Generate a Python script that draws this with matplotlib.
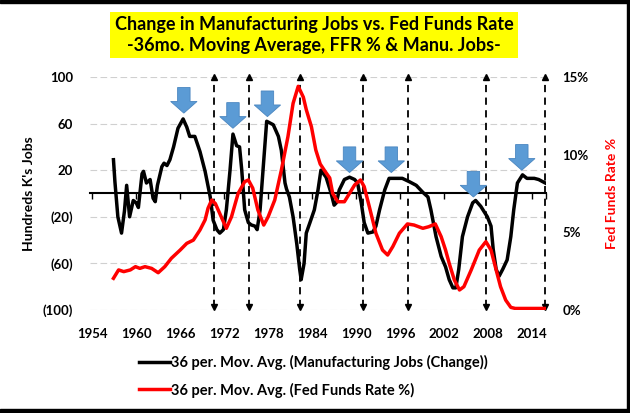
import matplotlib.pyplot as plt
from matplotlib.patches import FancyArrow, Rectangle
from matplotlib.lines import Line2D

plt.rcParams['font.family'] = 'Lato'
plt.rcParams['font.weight'] = 'bold'

# 36-month moving average of manufacturing job change (hundreds of K's)
jobs_years = [1956.9, 1957.1, 1957.5, 1958.0, 1958.4, 1958.7, 1959.1, 1959.6, 1960.0, 1960.3,
              1960.8, 1961.0, 1961.4, 1961.9, 1962.3, 1962.6, 1962.9, 1963.5, 1963.8, 1964.2,
              1964.6, 1965.1, 1965.7, 1966.4, 1966.9, 1967.3, 1968.0, 1968.7, 1969.4, 1970.1,
              1970.5, 1971.0, 1971.4, 1971.9, 1972.3, 1972.8, 1973.2, 1973.7, 1974.1, 1974.4,
              1974.8, 1975.3, 1975.7, 1976.2, 1976.5, 1976.9, 1977.3, 1977.8, 1978.7, 1979.4,
              1979.8, 1980.3, 1980.5, 1980.9, 1981.4, 1981.9, 1982.3, 1982.5, 1982.9, 1983.2,
              1983.7, 1984.3, 1984.8, 1985.2, 1985.9, 1986.6, 1987.0, 1987.3, 1987.7, 1988.4,
              1989.1, 1989.8, 1990.2, 1990.7, 1991.1, 1991.6, 1992.3, 1992.7, 1993.2, 1993.9,
              1994.5, 1995.4, 1996.3, 1997.3, 1998.2, 1999.1, 1999.8, 2000.2, 2000.9, 2001.6,
              2002.2, 2002.7, 2003.2, 2003.6, 2004.0, 2004.5, 2005.2, 2005.9, 2006.3, 2007.0,
              2007.9, 2008.4, 2008.7, 2009.1, 2009.5, 2010.0, 2010.6, 2011.1, 2011.5, 2012.0,
              2012.7, 2013.3, 2014.3, 2014.9, 2015.8]
jobs_change = [29, 10, -20, -34, -15, 7, -20, -6, -8, -12,
               17, 19, 9, 12, -4, -7, 7, 23, 26, 24,
               29, 40, 56, 64, 57, 49, 49, 36, 19, -3,
               -23, -31, -34, -31, -14, 20, 51, 41, 40, 20,
               -14, -25, -27, -28, -31, -14, 20, 62, 59, 49,
               37, 9, 4, -3, -20, -43, -65, -74, -60, -34,
               -25, -14, 3, 20, 14, 0, -10, -8, 3, 12,
               14, 12, 9, -8, -25, -34, -33, -28, -14, 3,
               13, 13, 13, 10, 7, 1, -3, -14, -37, -54,
               -63, -74, -81, -81, -65, -37, -20, -8, -6, -11,
               -20, -28, -48, -65, -71, -65, -57, -37, -14, 9,
               16, 13, 13, 12, 9]

# 36-month moving average of the Fed Funds Rate (%)
ffr_years = [1956.9, 1957.6, 1958.3, 1959.2, 1959.9, 1960.5, 1961.2, 1962.1, 1963.0, 1963.9,
             1964.8, 1966.0, 1966.9, 1967.8, 1968.7, 1969.4, 1969.8, 1970.3, 1970.8, 1971.6,
             1972.3, 1973.0, 1973.9, 1974.8, 1975.3, 1975.9, 1976.6, 1977.4, 1978.0, 1978.9,
             1979.8, 1980.7, 1981.4, 1982.1, 1982.8, 1983.2, 1983.9, 1984.5, 1985.1, 1985.8,
             1986.4, 1986.8, 1987.5, 1988.4, 1989.1, 1989.8, 1990.6, 1991.1, 1991.8, 1992.7,
             1993.6, 1994.3, 1995.0, 1995.9, 1997.0, 1997.9, 1999.1, 1999.9, 2000.8, 2001.6,
             2002.2, 2002.7, 2003.4, 2004.1, 2004.7, 2005.7, 2006.8, 2007.7, 2008.4, 2009.1,
             2009.7, 2010.4, 2011.1, 2011.7, 2015.8]
ffr_rate = [2.04, 2.58, 2.47, 2.58, 2.79, 2.68, 2.79, 2.68, 2.40, 2.79,
            3.33, 3.86, 4.29, 4.50, 5.15, 5.80, 6.55, 7.08, 6.85, 6.00,
            5.26, 6.00, 7.50, 8.26, 8.37, 7.84, 6.44, 5.47, 6.00, 7.08,
            9.00, 11.16, 13.30, 14.40, 13.70, 12.90, 11.80, 10.30, 9.40, 8.90,
            8.50, 7.51, 6.97, 6.97, 7.51, 8.05, 8.37, 7.94, 6.65, 4.94,
            3.86, 3.54, 4.08, 4.94, 5.54, 5.47, 5.26, 5.36, 5.54, 4.72,
            3.86, 3.00, 1.93, 1.29, 1.50, 2.58, 3.86, 4.40, 3.86, 2.58,
            1.50, 0.64, 0.17, 0.10, 0.10]

# annotations: blue "peak" arrows and dashed turning-point markers
peak_years = [1966.5, 1973.2, 1977.9, 1989.1, 1994.8, 2006.0, 2012.6]
peak_tips = [69, 56, 66, 18, 18, -3, 20]
turn_years = [1970.6, 1975.4, 1982.3, 1990.9, 1997.1, 2007.7, 2015.8]

year_ticks = [1954, 1960, 1966, 1972, 1978, 1984, 1990, 1996, 2002, 2008, 2014]
jobs_ticks = [-100, -60, -20, 20, 60, 100]
jobs_labels = ['(100)', '(60)', '(20)', '20', '60', '100']
rate_ticks = [0, 5, 10, 15]
rate_labels = ['0%', '5%', '10%', '15%']

fig = plt.figure(figsize=(6.3, 4.13), dpi=100)
ax = fig.add_axes([90/630, 1-310/413, 456/630, 233/413])
ax2 = ax.twinx()

ax.set_xlim(1953.7, 2015.9)
ax.set_ylim(-100, 100)
ax2.set_ylim(0, 15)

for s in ['top', 'right', 'left', 'bottom']:
    ax.spines[s].set_visible(False)
    ax2.spines[s].set_visible(False)

ax.set_yticks(jobs_ticks)
ax.set_yticklabels(jobs_labels)
ax.set_xticks(year_ticks)
ax.tick_params(axis='both', length=0, labelsize=9.5)
ax.tick_params(axis='y', pad=12)
ax.tick_params(axis='x', pad=13)
ax.grid(axis='y', color='#D0D0D0', linestyle=(0, (6, 3)), linewidth=0.8)
ax.set_axisbelow(True)

ax2.set_yticks(rate_ticks)
ax2.set_yticklabels(rate_labels)
ax2.tick_params(axis='y', length=0, labelsize=9.5, pad=12)

# zero line with small ticks
sec = ax.secondary_xaxis(0.5)
sec.set_alignment('bottom')
sec.set_xticks(year_ticks + [2015.9])
sec.set_xticklabels([])
sec.tick_params(axis='x', direction='out', length=4, width=1, color='black')
sec.spines['bottom'].set_linewidth(1.5)
sec.spines['bottom'].set_color('black')

# dashed double-headed markers
for yr in turn_years:
    ax.vlines(yr, -97, 98, colors='black', linestyles=(0, (4, 3)), linewidth=1.3, zorder=3)
    ax.plot([yr], [100], marker='^', color='black', markersize=5, clip_on=False, zorder=3)
    ax.plot([yr], [-97], marker='v', color='black', markersize=5, clip_on=False, zorder=3)

ax.plot(jobs_years, jobs_change, color='black', linewidth=2.5, solid_joinstyle='round', zorder=4)
ax2.plot(ffr_years, ffr_rate, color='#FF0000', linewidth=2.5, solid_joinstyle='round', zorder=4)

for yr, tip in zip(peak_years, peak_tips):
    ax.add_patch(FancyArrow(yr, tip + 22, 0, -22, width=1.7, head_width=3.6, head_length=10,
                            length_includes_head=True, facecolor='#5B9BD5',
                            edgecolor='#4A86C0', linewidth=0.6, zorder=6))

ax.set_ylabel("Hundreds K's Jobs", fontsize=10, fontweight='bold', labelpad=6)
ax2.set_ylabel('Fed Funds Rate %', fontsize=10, fontweight='bold', color='#FF0000', labelpad=12)

fig.text(0.499, 1-35/413, 'Change in Manufacturing Jobs vs. Fed Funds Rate\n-36mo. Moving Average, FFR % & Manu. Jobs-',
         ha='center', va='center', multialignment='center', fontsize=13, fontweight='bold',
         linespacing=1.25,
         bbox=dict(facecolor='#FFFF00', edgecolor='none', boxstyle='square,pad=0.25'))

handles = [Line2D([], [], color='black', linewidth=2.5), Line2D([], [], color='#FF0000', linewidth=2.5)]
fig.legend(handles, ['36 per. Mov. Avg. (Manufacturing Jobs (Change))', '36 per. Mov. Avg. (Fed Funds Rate %)'],
           loc='upper left', bbox_to_anchor=(139/630, 1-355/413), frameon=False, fontsize=10.5,
           handlelength=2.1, handletextpad=0.1, borderpad=0, borderaxespad=0, labelspacing=0.85)

# outer frame (top, right, bottom)
fig.add_artist(Rectangle((0, 1-3/413), 1, 3/413, transform=fig.transFigure, color='black'))
fig.add_artist(Rectangle((1-3/630, 0), 3/630, 1, transform=fig.transFigure, color='black'))
fig.add_artist(Rectangle((0, 0), 1, 4/413, transform=fig.transFigure, color='black'))

fig.savefig('out.png', dpi=100)
